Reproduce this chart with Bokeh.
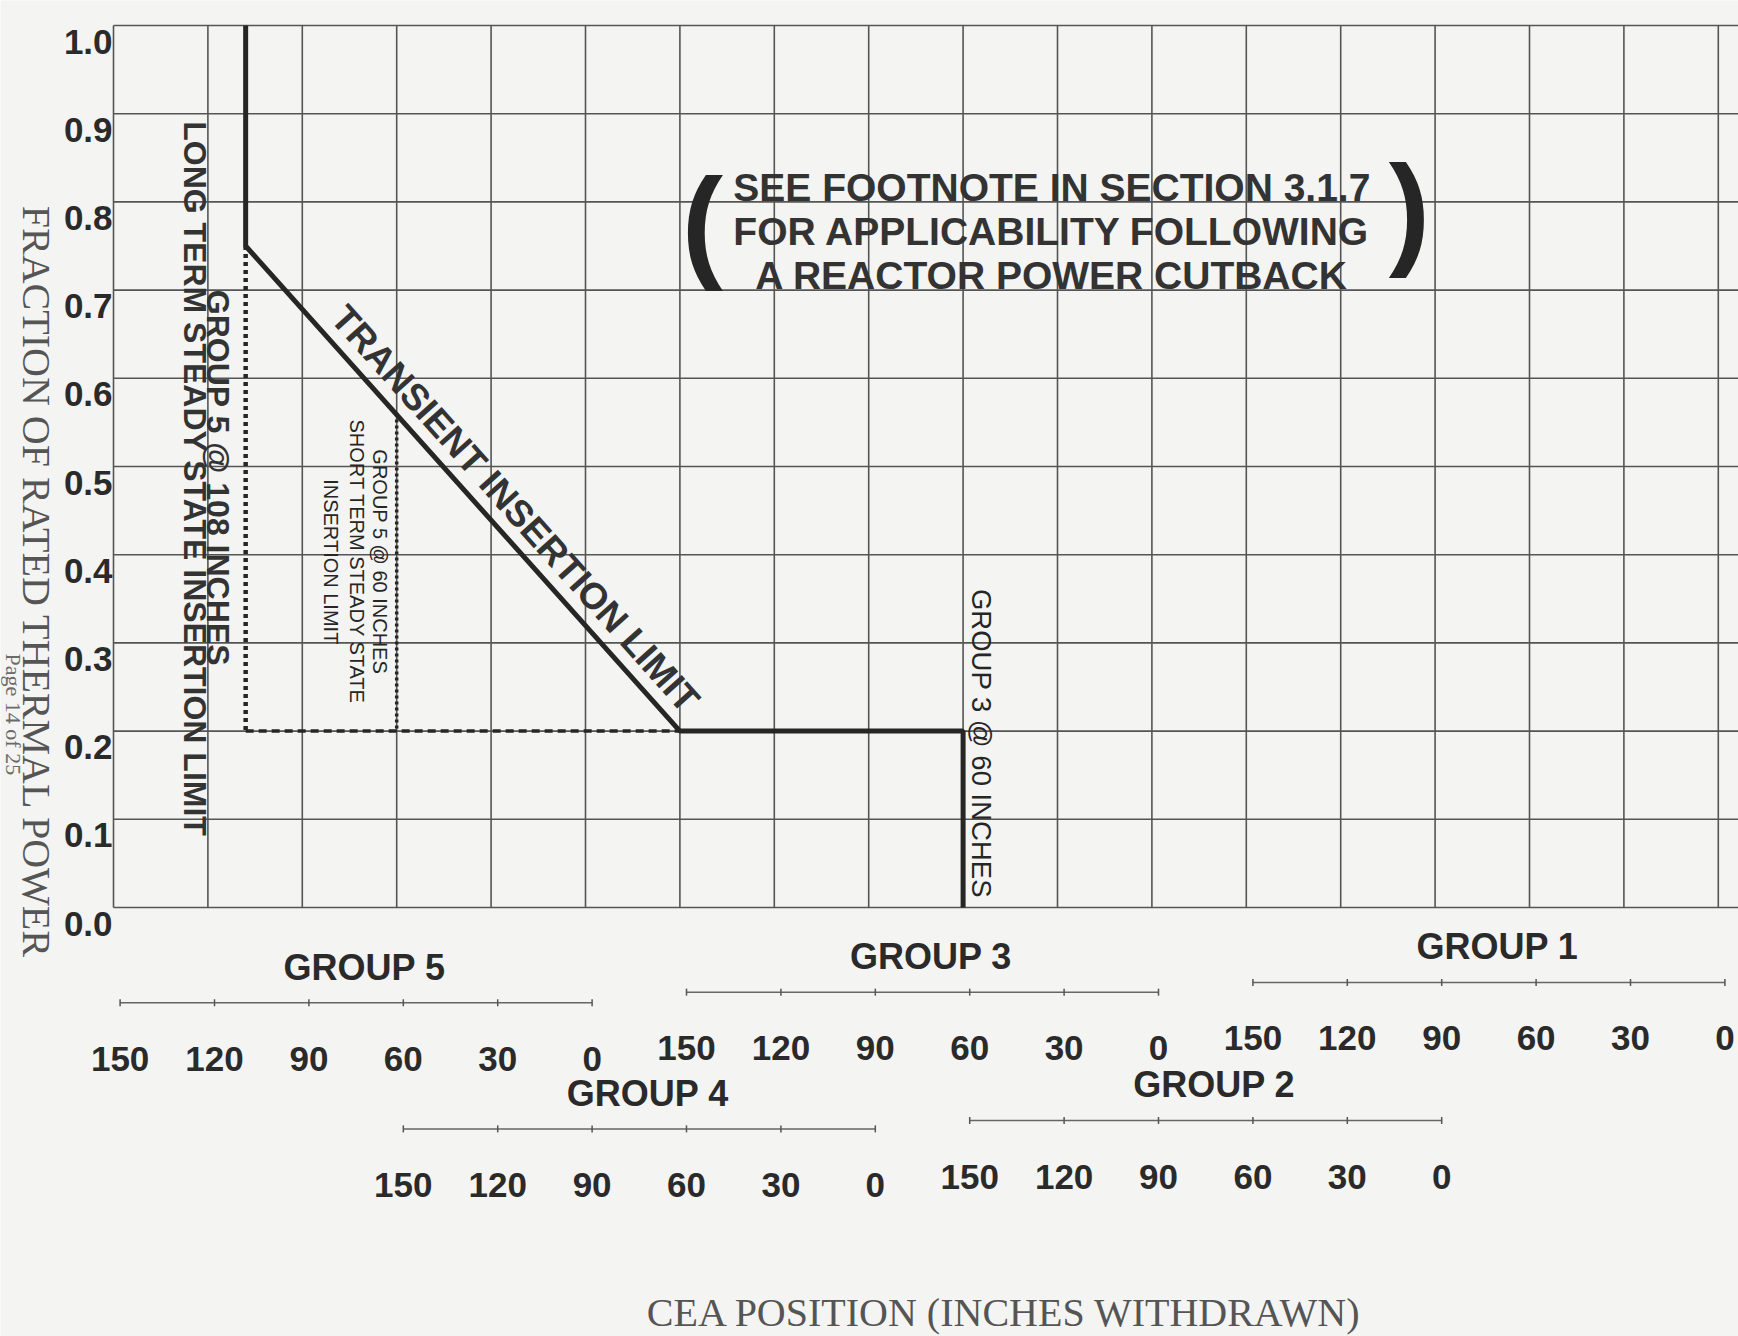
import math
from bokeh.plotting import figure
from bokeh.models import Range1d
from bokeh.core.properties import value
from bokeh.embed import file_html
from bokeh.resources import INLINE

# ---------------- data ----------------
power_ticks = [0.0, 0.1, 0.2, 0.3, 0.4, 0.5, 0.6, 0.7, 0.8, 0.9, 1.0]
power_tick_labels = ["0.0", "0.1", "0.2", "0.3", "0.4", "0.5", "0.6", "0.7", "0.8", "0.9", "1.0"]

group_names = ["GROUP 5", "GROUP 4", "GROUP 3", "GROUP 2", "GROUP 1"]
group_offsets_in = [0, 90, 180, 270, 360]          # combined travel at each group's 150" mark
position_ticks_in = [150, 120, 90, 60, 30, 0]
column_in = 30                                      # one grid column = 30 inches
grid_columns = 18                                   # vertical grid lines

# Transient insertion limit
transient_group = ["GROUP 5", "GROUP 5", "GROUP 3", "GROUP 3", "GROUP 3"]
transient_in = [108, 108, 150, 60, 60]
transient_power = [1.0, 0.75, 0.2, 0.2, 0.0]

# Long term steady state insertion limit
long_term_group = ["GROUP 5", "GROUP 5", "GROUP 3"]
long_term_in = [108, 108, 150]
long_term_power = [0.75, 0.2, 0.2]

# Short term steady state insertion limit
short_term_group = ["GROUP 5", "GROUP 5"]
short_term_in = [60, 60]
short_term_power = [0.56, 0.2]


def X(group, inches):
    return (group_offsets_in[group_names.index(group)] + 150 - inches) / column_in


# ---------------- layout constants ----------------
PX_X = 94.4     # pixels per grid column
PX_Y = 882.0    # pixels per unit of power
W, H = 1738, 1336
X0, Y0 = 113, 907   # pixel position of the chart origin
BG = "#f4f4f2"
INK = "#262626"
TXT = "#333333"
GRID = "#555555"
SANS = value("Liberation Sans")
SERIF = value("Liberation Serif")

p = figure(width=W, height=H,
           x_range=Range1d(-X0 / PX_X, (W - X0) / PX_X),
           y_range=Range1d((Y0 - H) / PX_Y, Y0 / PX_Y),
           output_backend="svg", toolbar_location=None,
           x_axis_location=None, y_axis_location=None, min_border=0)
p.grid.visible = False
p.outline_line_color = None
p.background_fill_color = BG
p.border_fill_color = BG

# ---------------- grid ----------------
gx = [i for i in range(grid_columns)]
p.segment(x0=gx, y0=[power_ticks[0]] * len(gx), x1=gx, y1=[power_ticks[-1]] * len(gx),
          line_color=GRID, line_width=1.6)
right_edge = (W - X0) / PX_X + 0.5
p.segment(x0=[0] * len(power_ticks), y0=power_ticks, x1=[right_edge] * len(power_ticks), y1=power_ticks,
          line_color=GRID, line_width=1.6)

# y tick labels
p.text(x=[-0.01] * len(power_ticks), y=[v - 16 / PX_Y for v in power_ticks], text=power_tick_labels,
       text_align="right", text_baseline="middle", text_font=SANS, text_font_size="35px",
       text_font_style="bold", text_color="#2a2a2a")

# ---------------- curves ----------------
tx = [X(g, i) for g, i in zip(transient_group, transient_in)]
lx = [X(g, i) for g, i in zip(long_term_group, long_term_in)]
sx = [X(g, i) for g, i in zip(short_term_group, short_term_in)]

p.line(lx[:2], long_term_power[:2], line_color=INK, line_width=4.5, line_dash="4 4")
p.line(lx[1:], long_term_power[1:], line_color=INK, line_width=3.5, line_dash="8 5")
p.line(sx, short_term_power, line_color=INK, line_width=3.5, line_dash="3 3")
p.line(tx, transient_power, line_color=INK, line_width=5)

# ---------------- in-plot labels ----------------
down = -math.pi / 2
p.text(x=[0.86], y=[0.486], text=["LONG TERM STEADY STATE INSERTION LIMIT"], angle=down,
       text_align="center", text_baseline="middle", text_font=SANS, text_font_size="32px",
       text_font_style="bold", text_color=TXT)
p.text(x=[1.11], y=[0.487], text=["GROUP 5 @ 108 INCHES"], angle=down,
       text_align="center", text_baseline="middle", text_font=SANS, text_font_size="32px",
       text_font_style="bold", text_color=TXT)
p.text(x=[2.826, 2.576, 2.306], y=[0.392, 0.392, 0.392],
       text=["GROUP 5 @ 60 INCHES", "SHORT TERM STEADY STATE", "INSERTION LIMIT"], angle=down,
       text_align="center", text_baseline="middle", text_font=SANS, text_font_size="20px", text_color=INK)
p.text(x=[9.19], y=[0.186], text=["GROUP 3 @ 60 INCHES"], angle=down,
       text_align="center", text_baseline="middle", text_font=SANS, text_font_size="27.5px", text_color=INK)

diag_angle = -math.atan((transient_power[1] - transient_power[2]) * PX_Y / ((tx[2] - tx[1]) * PX_X))
p.text(x=[4.256], y=[0.452], text=["TRANSIENT INSERTION LIMIT"], angle=diag_angle,
       text_align="center", text_baseline="middle", text_font=SANS, text_font_size="37px",
       text_font_style="bold", text_color=TXT)

p.text(x=[9.94, 9.94, 9.94], y=[0.816, 0.767, 0.717],
       text=["SEE FOOTNOTE IN SECTION 3.1.7", "FOR APPLICABILITY FOLLOWING", "A REACTOR POWER CUTBACK"],
       text_align="center", text_baseline="middle", text_font=SANS, text_font_size="39px",
       text_font_style="bold", text_color=TXT)
p.text(x=[6.237, 13.727], y=[0.777, 0.792], text=["(", ")"],
       text_align="center", text_baseline="alphabetic", text_font=SANS, text_font_size="124px",
       text_font_style="bold", text_color=INK)

# ---------------- group position scales ----------------
group_row_y = {"GROUP 5": -0.108, "GROUP 4": -0.251, "GROUP 3": -0.096, "GROUP 2": -0.2415, "GROUP 1": -0.085}
row_shift = 0.07
label_shift = 0.09
for g in group_names:
    yy = group_row_y[g]
    xs = [X(g, t) + row_shift for t in position_ticks_in]
    p.segment(x0=[xs[0]], y0=[yy], x1=[xs[-1]], y1=[yy], line_color="#666666", line_width=1.5)
    p.segment(x0=xs, y0=[yy - 3.5 / PX_Y] * len(xs), x1=xs, y1=[yy + 3.5 / PX_Y] * len(xs),
              line_color="#555555", line_width=1.5)
    p.text(x=xs, y=[yy - 0.0635] * len(xs), text=[str(t) for t in position_ticks_in],
           text_align="center", text_baseline="middle", text_font=SANS, text_font_size="35px",
           text_font_style="bold", text_color="#2a2a2a")
    p.text(x=[(xs[0] + xs[-1]) / 2 + label_shift], y=[yy + 0.0405], text=[g],
           text_align="center", text_baseline="middle", text_font=SANS, text_font_size="36px",
           text_font_style="bold", text_color="#2a2a2a")

# ---------------- axis titles ----------------
p.text(x=[-0.82], y=[0.3685], text=["FRACTION OF RATED THERMAL POWER"], angle=down,
       text_align="center", text_baseline="middle", text_font=SERIF, text_font_size="40px", text_color="#555555")
p.text(x=[-1.059], y=[0.219], text=["Page 14 of 25"], angle=down,
       text_align="center", text_baseline="middle", text_font=SERIF, text_font_size="22px", text_color="#6a6a6a")
p.text(x=[9.44], y=[-0.459], text=["CEA POSITION (INCHES WITHDRAWN)"],
       text_align="center", text_baseline="middle", text_font=SERIF, text_font_size="40px", text_color="#555555")

open("out.html", "w").write(file_html(p, INLINE))
